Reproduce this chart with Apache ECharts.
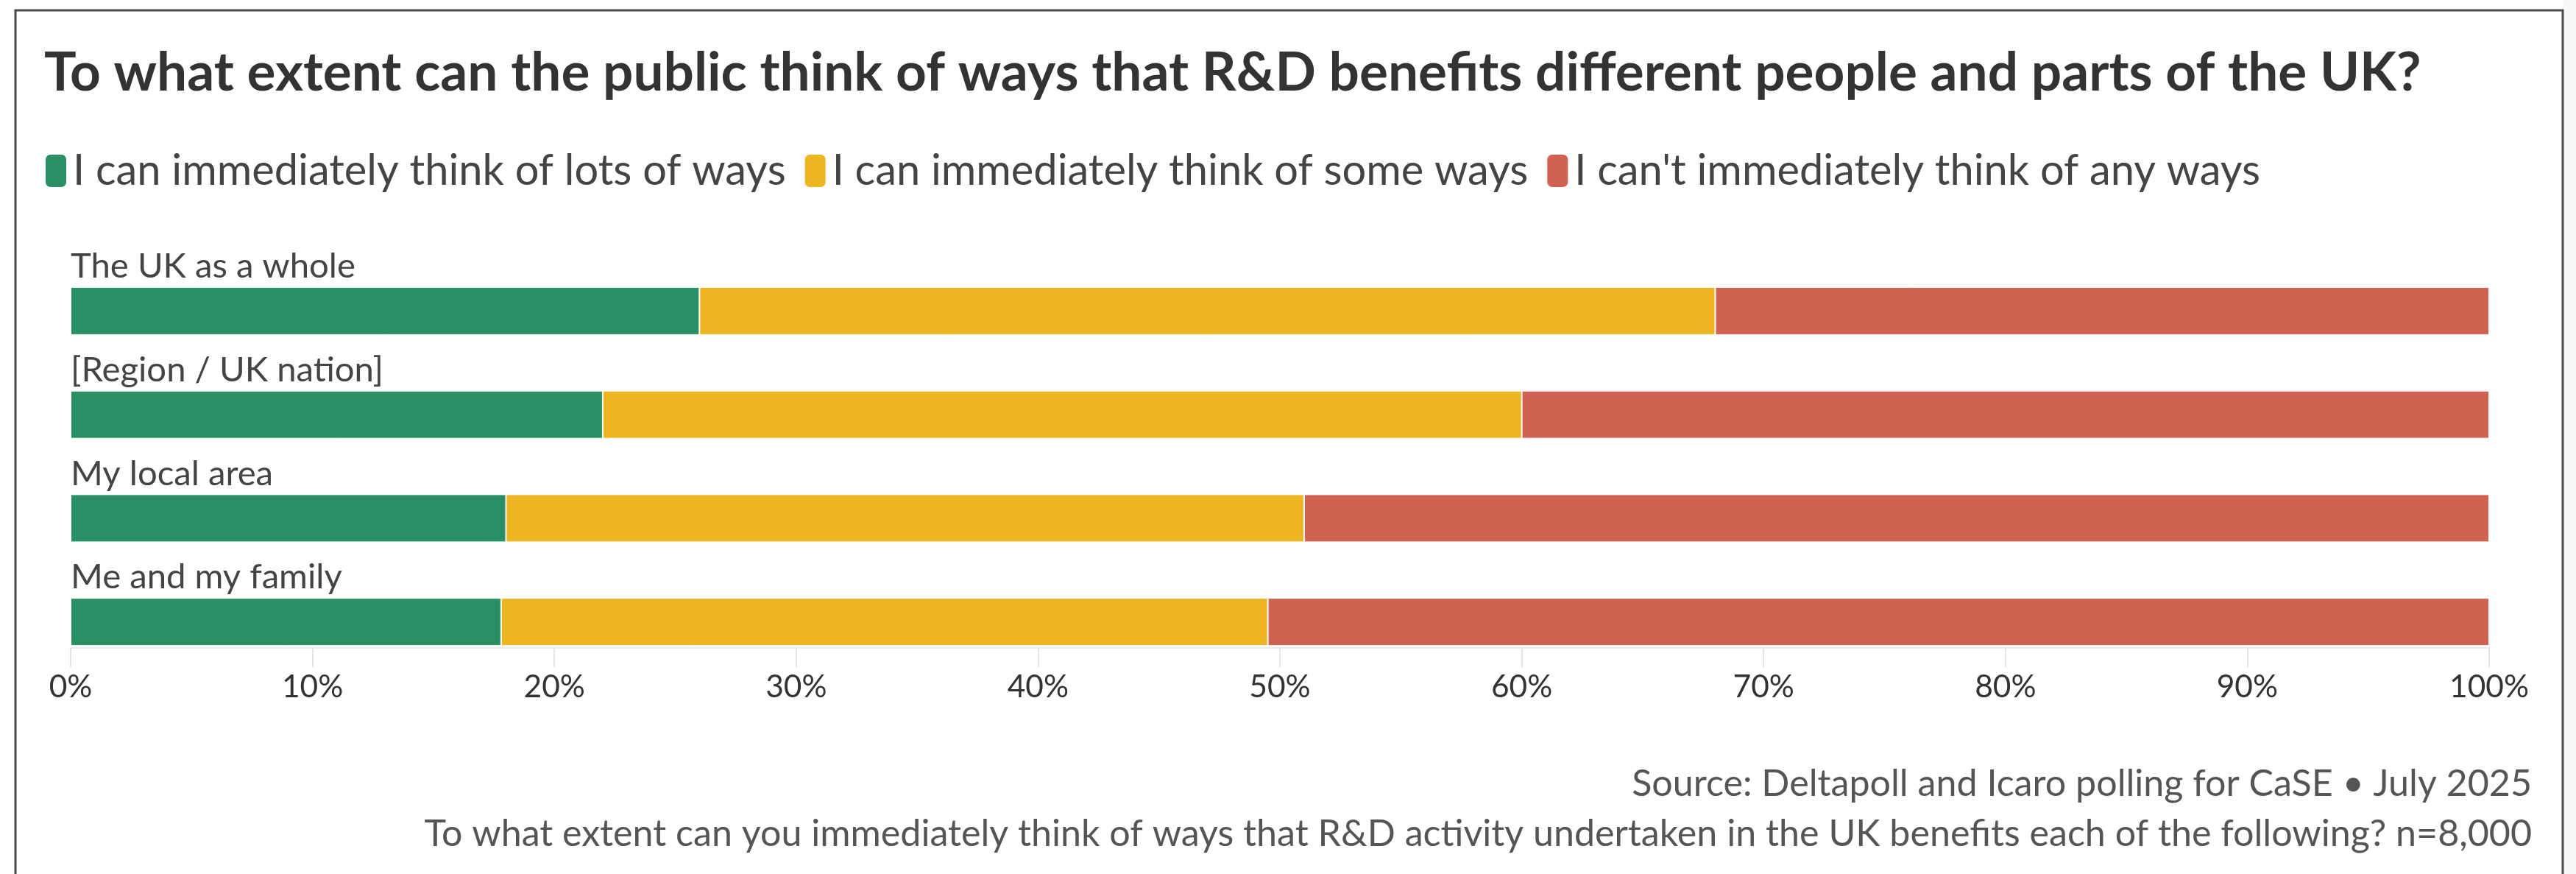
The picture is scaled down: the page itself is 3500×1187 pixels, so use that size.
<!DOCTYPE html>
<html>
<head>
<meta charset="utf-8">
<script src="https://cdn.jsdelivr.net/npm/echarts@6/dist/echarts.min.js"></script>
<style>
  html, body { margin: 0; padding: 0; background: #ffffff; }
  #chart { width: 3500px; height: 1187px; }
</style>
</head>
<body>
<div id="chart"></div>
<script>
// ---- data ----
const categories = ['The UK as a whole', '[Region / UK nation]', 'My local area', 'Me and my family'];
const seriesNames = ['I can immediately think of lots of ways', 'I can immediately think of some ways', "I can't immediately think of any ways"];
const lotsOfWays = [26, 22, 18, 17.8];
const someWays = [42, 38, 33, 31.7];
const noWays = [32, 40, 49, 50.5];
const tickValues = [0, 10, 20, 30, 40, 50, 60, 70, 80, 90, 100];
const titleText = 'To what extent can the public think of ways that R&D benefits different people and parts of the UK?';
const sourceText = 'Source: Deltapoll and Icaro polling for CaSE \u2022 July 2025';
const noteText = 'To what extent can you immediately think of ways that R&D activity undertaken in the UK benefits each of the following? n=8,000';

// ---- styles ----
const FONT = 'Lato, "Noto Sans", sans-serif';
const colors = ['#298f64', '#edb521', '#d16252'];

const measureCtx = document.createElement('canvas').getContext('2d');
function fit(text, weight, target) {
  measureCtx.font = weight + ' 100px ' + FONT;
  return 100 * target / measureCtx.measureText(text).width;
}
const titleSize = fit(titleText, 'bold', 3230);
const legendSize = fit(seriesNames[0], 'normal', 969);
const catSize = fit(categories[0], 'normal', 387);
const tickSize = fit('100%', 'normal', 108);
const footSize = fit(noteText, 'normal', 2864);

const chart = echarts.init(document.getElementById('chart'), null, { renderer: 'canvas' });

const series = [lotsOfWays, someWays, noWays].map((vals, i) => ({
  name: seriesNames[i],
  type: 'bar',
  stack: 'total',
  barWidth: 65,
  data: vals,
  itemStyle: { color: colors[i], borderColor: '#ffffff', borderWidth: 1 },
  emphasis: { disabled: true },
  label: i === 0 ? {
    show: true,
    position: [0, -28],
    formatter: '{b}',
    align: 'left',
    verticalAlign: 'middle',
    fontFamily: FONT,
    fontSize: catSize,
    color: '#444444'
  } : { show: false }
}));

const option = {
  backgroundColor: '#ffffff',
  animation: false,
  title: {
    text: titleText,
    left: 60,
    top: 99 - titleSize / 2,
    padding: 0,
    textStyle: {
      fontFamily: FONT,
      fontWeight: 'bold',
      fontSize: titleSize,
      lineHeight: titleSize,
      color: '#333333'
    }
  },
  legend: {
    data: seriesNames,
    left: 60,
    top: 203,
    padding: 0,
    icon: 'roundRect',
    itemWidth: 30,
    itemHeight: 46,
    itemGap: 24,
    selectedMode: false,
    textStyle: {
      fontFamily: FONT,
      fontSize: legendSize,
      color: '#444444',
      padding: [0, 0, 0, 3]
    }
  },
  grid: { left: 96, right: 118, top: 352, bottom: 272, containLabel: false },
  xAxis: {
    type: 'value',
    min: tickValues[0],
    max: tickValues[tickValues.length - 1],
    interval: tickValues[1] - tickValues[0],
    offset: -35,
    axisLine: { show: true, lineStyle: { color: '#ebebeb', width: 2 } },
    axisTick: { show: true, length: 26, lineStyle: { color: '#e4e4e4', width: 2 } },
    splitLine: { show: false },
    axisLabel: {
      margin: 32,
      formatter: '{value}%',
      fontFamily: FONT,
      fontSize: tickSize,
      color: '#333333'
    }
  },
  yAxis: {
    type: 'category',
    data: categories,
    inverse: true,
    axisLine: { show: false },
    axisTick: { show: false },
    axisLabel: { show: false },
    splitLine: { show: false }
  },
  series: series,
  graphic: [
    { type: 'rect', silent: true, z: -10, shape: { x: 3482, y: 0, width: 30, height: 1187 }, style: { fill: '#f7f8fa' } },
    { type: 'rect', silent: true, z: 100, shape: { x: 21, y: 14, width: 3461, height: 1200 }, style: { fill: 'none', stroke: '#4a4a4a', lineWidth: 3 } },
    { type: 'text', silent: true, style: { x: 3440, y: 1065, text: sourceText, textAlign: 'right', textVerticalAlign: 'middle', fontFamily: FONT, fontSize: footSize, fill: '#555555' } },
    { type: 'text', silent: true, style: { x: 3440, y: 1133, text: noteText, textAlign: 'right', textVerticalAlign: 'middle', fontFamily: FONT, fontSize: footSize, fill: '#555555' } }
  ]
};

chart.setOption(option);
</script>
</body>
</html>
